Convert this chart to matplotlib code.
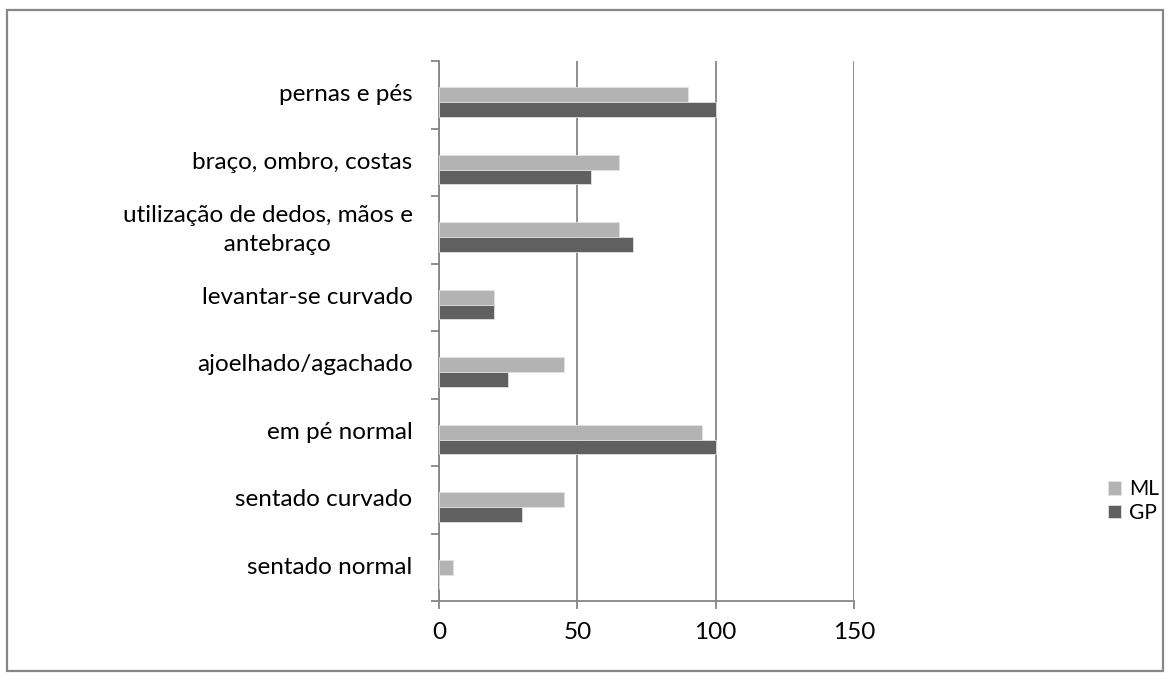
import matplotlib
matplotlib.use("Agg")
import matplotlib.pyplot as plt
from matplotlib.patches import Rectangle
import numpy as np

plt.rcParams['font.family'] = ['Lato', 'DejaVu Sans']

categories = [
    "sentado normal",
    "sentado curvado",
    "em pé normal",
    "ajoelhado/agachado",
    "levantar-se curvado",
    "utilização de dedos, mãos e\n   antebraço",
    "braço, ombro, costas",
    "pernas e pés",
]
ml_values = [5, 45, 95, 45, 20, 65, 65, 90]
gp_values = [0, 30, 100, 25, 20, 70, 55, 100]
x_ticks = [0, 50, 100, 150]

W, H = 1171, 681
fig = plt.figure(figsize=(W / 100, H / 100), dpi=100)
fig.patch.set_facecolor("white")

# outer chart-area frame
fig.add_artist(Rectangle((7 / W, 10 / H), 1156 / W, 661 / H,
                         transform=fig.transFigure, fill=False,
                         edgecolor="#878787", linewidth=1.6))

ax = fig.add_axes([439 / W, 80 / H, 415 / W, 540 / H])

grid_col = "#868686"
bar_h = 0.218
y = np.arange(len(categories))

ax.barh(y, ml_values, height=bar_h, align="center", color="#b3b3b3",
        edgecolor="#e2e2e2", linewidth=0.6, label="ML", zorder=3)
ax.barh(y - bar_h, gp_values, height=bar_h, align="center", color="#606060",
        edgecolor="#e2e2e2", linewidth=0.6, label="GP", zorder=3)

ax.set_xlim(0, 150)
ax.set_ylim(-0.5, len(categories) - 0.5)

ax.set_xticks(x_ticks)
ax.set_xticklabels([str(v) for v in x_ticks])
ax.xaxis.grid(True, color=grid_col, linewidth=1.3, zorder=0)
ax.set_axisbelow(True)

ax.set_yticks(y)
ax.set_yticklabels(categories, multialignment="center", linespacing=1.5,
                   va="center")
ax.set_yticks(np.arange(-0.5, len(categories), 1.0), minor=True)
ax.tick_params(axis="y", which="major", length=0, pad=19,
               labelsize=17.5, labelcolor="#000000")
ax.tick_params(axis="y", which="minor", length=6, width=1.3,
               color=grid_col, direction="out")
ax.tick_params(axis="x", which="major", length=6, width=1.3,
               color=grid_col, direction="out", pad=9,
               labelsize=17.5, labelcolor="#000000")

for side in ("top", "right"):
    ax.spines[side].set_visible(False)
for side in ("left", "bottom"):
    ax.spines[side].set_color(grid_col)
    ax.spines[side].set_linewidth(1.3)

leg = fig.legend(loc="center left", bbox_to_anchor=(1100 / W, 1 - 501 / H),
                 frameon=False, fontsize=15, handlelength=0.6,
                 handleheight=0.6, handletextpad=0.4, labelspacing=0.15,
                 borderaxespad=0)

fig.savefig("out.png", dpi=100, facecolor="white")
